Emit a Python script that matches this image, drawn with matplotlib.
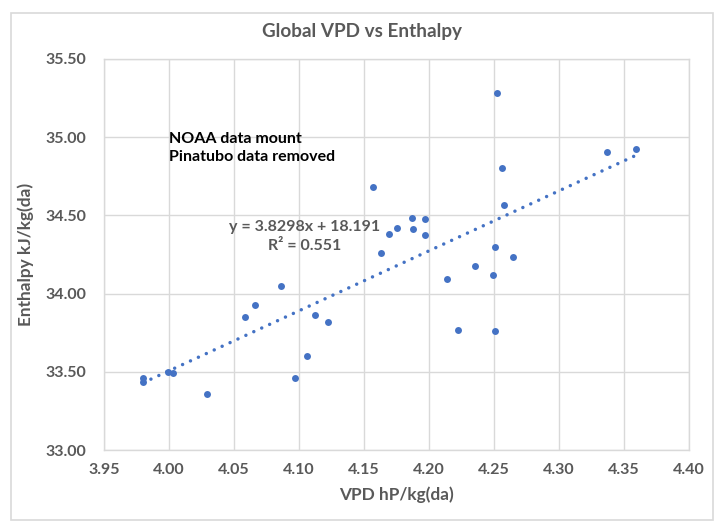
import numpy as np
import matplotlib
matplotlib.use("Agg")
import matplotlib.pyplot as plt
from matplotlib.patches import Rectangle

vpd = [3.980, 3.980, 3.999, 4.003, 4.029, 4.0585, 4.066, 4.086, 4.097, 4.106,
       4.112, 4.122, 4.157, 4.163, 4.169, 4.175, 4.187, 4.188, 4.197, 4.197,
       4.214, 4.222, 4.235, 4.2495, 4.2505, 4.251, 4.252, 4.256, 4.258, 4.265,
       4.337, 4.359]
enthalpy = [33.462, 33.433, 33.500, 33.490, 33.356, 33.852, 33.925, 34.051, 33.460, 33.603,
            33.863, 33.820, 34.684, 34.262, 34.379, 34.417, 34.485, 34.415, 34.479, 34.373,
            34.095, 33.765, 34.174, 34.117, 34.300, 33.761, 35.283, 34.800, 34.565, 34.232,
            34.903, 34.925]
x_ticks = [3.95, 4.00, 4.05, 4.10, 4.15, 4.20, 4.25, 4.30, 4.35, 4.40]
y_ticks = [33.00, 33.50, 34.00, 34.50, 35.00, 35.50]
title = "Global VPD vs Enthalpy"
xlabel = "VPD hP/kg(da)"
ylabel = "Enthalpy kJ/kg(da)"
note = "NOAA data mount\nPinatubo data removed"
eq_text = "y = 3.8298x + 18.191\nR² = 0.551"

plt.rcParams['font.family'] = ['Lato', 'DejaVu Sans']
grey = '#595959'
blue = '#4472C4'

fig = plt.figure(figsize=(7.2, 5.31), dpi=100)
fig.patch.set_facecolor('white')
border = Rectangle((11/720, 1 - 520/531), (713-11)/720, (520-13)/531,
                   transform=fig.transFigure, facecolor='none',
                   edgecolor='#d9d9d9', linewidth=1.2, zorder=10)
fig.add_artist(border)

ax = fig.add_axes([104/720, 1 - 450/531, (689-104)/720, (450-59)/531])
ax.set_xlim(3.95, 4.40)
ax.set_ylim(33.0, 35.5)
ax.set_xticks(x_ticks)
ax.set_yticks(y_ticks)
ax.set_xticklabels([f"{v:.2f}" for v in x_ticks])
ax.set_yticklabels([f"{v:.2f}" for v in y_ticks])
ax.grid(True, color='#d9d9d9', linewidth=1)
ax.set_axisbelow(True)
for s in ax.spines.values():
    s.set_color('#d9d9d9')
    s.set_linewidth(1)
ax.tick_params(length=0, labelsize=11.5, labelcolor=grey)
ax.tick_params(axis='y', pad=13)
ax.tick_params(axis='x', pad=9)
for lab in ax.get_xticklabels() + ax.get_yticklabels():
    lab.set_fontweight('bold')

x = np.array(vpd)
y = np.array(enthalpy)
m, b = np.polyfit(x, y, 1)
xs = np.array([x.min(), x.max()])
ax.plot(xs, m * xs + b, color=blue, linestyle=(0, (0.01, 2.5)), linewidth=2.5,
        dash_capstyle='round', zorder=2)
ax.scatter(x, y, s=25, color=blue, zorder=3, linewidths=0)

ax.text(4.00, 34.93, note, fontsize=11.5, fontweight='bold', color='black',
        va='center', ha='left', linespacing=1.4)
ax.text(4.104, 34.365, eq_text, fontsize=11.5, color=grey, fontweight='bold',
        va='center', ha='center', linespacing=1.4)

fig.text(362/720, 1 - 32/531, title, fontsize=13.6, color=grey, ha='center', va='center',
         fontweight='bold')
ax.set_xlabel(xlabel, fontsize=12.4, color=grey, fontweight='bold', labelpad=7)
ax.set_ylabel(ylabel, fontsize=12.4, color=grey, fontweight='bold', labelpad=8)

fig.savefig("out.png", dpi=100)
